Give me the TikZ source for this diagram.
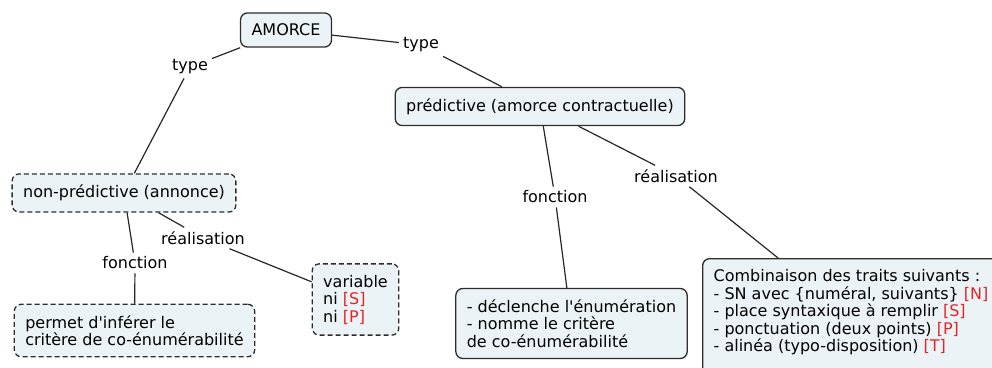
\documentclass[tikz,border=0pt]{standalone}
\usepackage{fontspec}
\setmainfont{DejaVu Sans}
\usepackage{tikz}
\usetikzlibrary{positioning}
\definecolor{conceptfill}{RGB}{236,243,246}
\definecolor{conceptdraw}{RGB}{45,45,45}
\definecolor{markred}{RGB}{226,38,38}
\tikzset{
    concept/.style={
        draw=conceptdraw,
        fill=conceptfill,
        rounded corners=7pt,
        line width=1.3pt,
        inner xsep=11pt,
        inner ysep=11pt,
        align=left,
        font=\fontsize{16pt}{17.5pt}\selectfont
    },
    openconcept/.style={
        concept,
        dash pattern=on 5pt off 3pt
    },
    linklabel/.style={
        inner sep=4pt,
        font=\fontsize{16pt}{17.5pt}\selectfont
    },
    link/.style={
        draw=black!85,
        line width=1.2pt
    }
}
\newcommand{\mk}[1]{\textcolor{markred}{[#1]}}

\begin{document}
\begin{tikzpicture}[x=1pt, y=-1pt]
    \useasboundingbox (0,0) rectangle (992,367);
    % Concepts
    \node[concept] (amorce) at (286,30) {AMORCE};
    \node[concept] (pred) at (540,106.5) {prédictive (amorce contractuelle)};
    \node[openconcept] (npred) at (124,193) {non-prédictive (annonce)};
    \node[openconcept] (permet) at (134.5,330.5) {permet d\textquotesingle inférer le\\critère de co-énumérabilité};
    \node[openconcept] (variable) at (355.5,299.5) {variable\\ni \mk{S}\\ni \mk{P}};
    \node[concept] (decl) at (571.5,323.5) {- déclenche l\textquotesingle énumération\\- nomme le critère\\de co-énumérabilité};
    \node[concept, anchor=north west] (comb) at (702,258) {Combinaison des traits suivants :\\- SN avec \{numéral, suivants\} \mk{N}\\- place syntaxique à remplir \mk{S}\\- ponctuation (deux points) \mk{P}\\- alinéa (typo-disposition) \mk{T}\rule[-12pt]{0pt}{12pt}};

    % Link labels
    \node[linklabel] (type1) at (190,67) {type};
    \node[linklabel] (type2) at (421,45) {type};
    \node[linklabel] (fonc1) at (135,263) {fonction};
    \node[linklabel] (real1) at (203,238) {réalisation};
    \node[linklabel] (fonc2) at (555,197) {fonction};
    \node[linklabel] (real2) at (676,176) {réalisation};

    % Links
    \draw[link] (amorce) -- (type1);
    \draw[link] (type1) -- (npred);
    \draw[link] (amorce) -- (type2);
    \draw[link] (type2) -- (pred);
    \draw[link] (npred) -- (fonc1);
    \draw[link] (fonc1) -- (permet);
    \draw[link] (npred) -- (real1);
    \draw[link] (real1) -- (variable);
    \draw[link] (pred) -- (fonc2);
    \draw[link] (fonc2) -- (decl);
    \draw[link] (pred) -- (real2);
    \draw[link] (real2) -- (comb);
\end{tikzpicture}
\end{document}
